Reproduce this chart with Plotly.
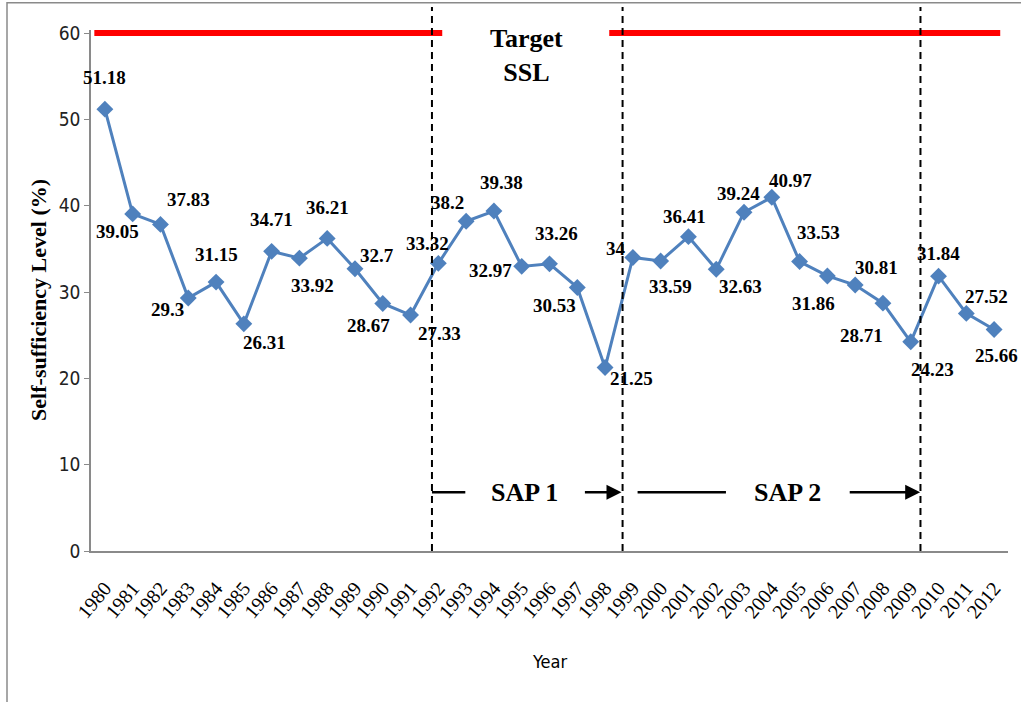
import plotly.graph_objects as go

# ---- data ----
years = list(range(1980, 2013))
ssl_values = [51.18, 39.05, 37.83, 29.3, 31.15, 26.31, 34.71, 33.92, 36.21, 32.7,
              28.67, 27.33, 33.32, 38.2, 39.38, 32.97, 33.26, 30.53, 21.25, 34,
              33.59, 36.41, 32.63, 39.24, 40.97, 33.53, 31.86, 30.81, 28.71, 24.23,
              31.84, 27.52, 25.66]
target_ssl = 60
y_ticks = [0, 10, 20, 30, 40, 50, 60]

# label offsets in pixels (dx right, dy down) - positions only
label_dx = [0, -15, 28, -21, 0, 21, 0, 13, 0, 22, -14, 29, -11, -19, 8, -31,
            7, -23, 26, -17, 10, -4, 24, -6, 19, 19, -14, 21, -21, 22, 0, 20, 2]
label_dy = [-32, 18, -25, 11, -28, 19, -32, 27, -31, -13, 22, 18, -20, -19, -29, 4,
            -30, 18, 11, -9, 25, -20, 17, -19, -17, -29, 28, -18, 32, 28, -23, -17, 26]

serif = "Liberation Serif, Times New Roman, serif"
narrow = "Liberation Sans Narrow, Arial Narrow, DejaVu Sans Condensed, sans-serif"

fig = go.Figure()

# target segments
fig.add_trace(go.Scatter(x=[1979.62, 1992.14], y=[target_ssl, target_ssl], mode="lines",
                         line=dict(color="#FF0000", width=6), hoverinfo="skip", showlegend=False))
fig.add_trace(go.Scatter(x=[1998.15, 2012.22], y=[target_ssl, target_ssl], mode="lines",
                         line=dict(color="#FF0000", width=6), hoverinfo="skip", showlegend=False))

fig.add_trace(go.Scatter(x=years, y=ssl_values, mode="lines+markers",
                         line=dict(color="#4F81BD", width=3),
                         marker=dict(symbol="diamond", size=13, color="#4F81BD"),
                         showlegend=False, cliponaxis=False))

annotations = []
for yr, v, dx, dy in zip(years, ssl_values, label_dx, label_dy):
    annotations.append(dict(x=yr, y=v, xref="x", yref="y", text=f"<b>{v:g}</b>", showarrow=False,
                            xshift=dx, yshift=-dy, xanchor="center", yanchor="middle",
                            font=dict(family=serif, size=19, color="black")))

# Target SSL text
annotations.append(dict(x=1995.17, y=57.45, xref="x", yref="y", text="<b>Target<br>SSL</b>",
                        showarrow=False, xanchor="center", yanchor="middle",
                        font=dict(family=serif, size=26, color="black")))
# SAP texts
annotations.append(dict(x=1995.1, y=6.8, xref="x", yref="y", text="<b>SAP 1</b>",
                        showarrow=False, xanchor="center", yanchor="middle",
                        font=dict(family=serif, size=26, color="black")))
annotations.append(dict(x=2004.56, y=6.8, xref="x", yref="y", text="<b>SAP 2</b>",
                        showarrow=False, xanchor="center", yanchor="middle",
                        font=dict(family=serif, size=26, color="black")))
# arrows
for tail, tip in [(1997.22, 1998.59), (2006.75, 2009.34)]:
    annotations.append(dict(x=tip, y=6.8, ax=tail, ay=6.8, xref="x", yref="y",
                            axref="x", ayref="y", text="", showarrow=True,
                            arrowhead=2, arrowsize=1.2, arrowwidth=2.5, arrowcolor="black",
                            standoff=0))
# axis titles
annotations.append(dict(x=0.5, y=-0.213, xref="paper", yref="paper", text="Year",
                        showarrow=False, xanchor="center", yanchor="middle",
                        font=dict(family=narrow, size=18, color="black")))
annotations.append(dict(x=-0.0567, y=0.482, xref="paper", yref="paper",
                        text="<b>Self-sufficiency Level (%)</b>", textangle=-90,
                        showarrow=False, xanchor="center", yanchor="middle",
                        font=dict(family=serif, size=22, color="black")))

shapes = []
# SAP plain line segments
for x0, x1 in [(1991.77, 1992.97), (1999.17, 2002.35)]:
    shapes.append(dict(type="line", xref="x", yref="y", x0=x0, x1=x1, y0=6.8, y1=6.8,
                       line=dict(color="black", width=2.5)))
# dashed period separators
for xv in [1991.77, 1998.63, 2009.35]:
    shapes.append(dict(type="line", xref="x", yref="paper", x0=xv, x1=xv, y0=0, y1=1.044,
                       line=dict(color="black", width=2, dash="7px,5px")))
# outer frame
shapes.append(dict(type="rect", xref="paper", yref="paper", x0=-0.0916, x1=1.05,
                   y0=-0.34, y1=1.0521, line=dict(color="#8A8A8A", width=1.5)))

fig.update_layout(
    width=1021, height=702,
    margin=dict(l=91, r=13, t=30, b=151),
    paper_bgcolor="white", plot_bgcolor="white",
    annotations=annotations, shapes=shapes,
    xaxis=dict(range=[1979.5, 2012.5], tickvals=years, ticktext=[str(y) for y in years],
               tickangle=-50, showgrid=False, zeroline=False, showline=True,
               linecolor="#8A8A8A", linewidth=1.5, ticks="",
               tickfont=dict(family=serif, size=20, color="black"),
               ticklabelstandoff=16),
    yaxis=dict(range=[0, 60.35], tickvals=y_ticks, showgrid=False, zeroline=False,
               showline=True, linecolor="#8A8A8A", linewidth=1.5, ticks="outside",
               ticklen=5, tickcolor="#8A8A8A",
               tickfont=dict(family=narrow, size=19, color="#222")),
)

fig.write_html("out.html", config={"displayModeBar": False},
               post_script="document.body.style.margin='0';document.body.style.overflow='hidden';")
